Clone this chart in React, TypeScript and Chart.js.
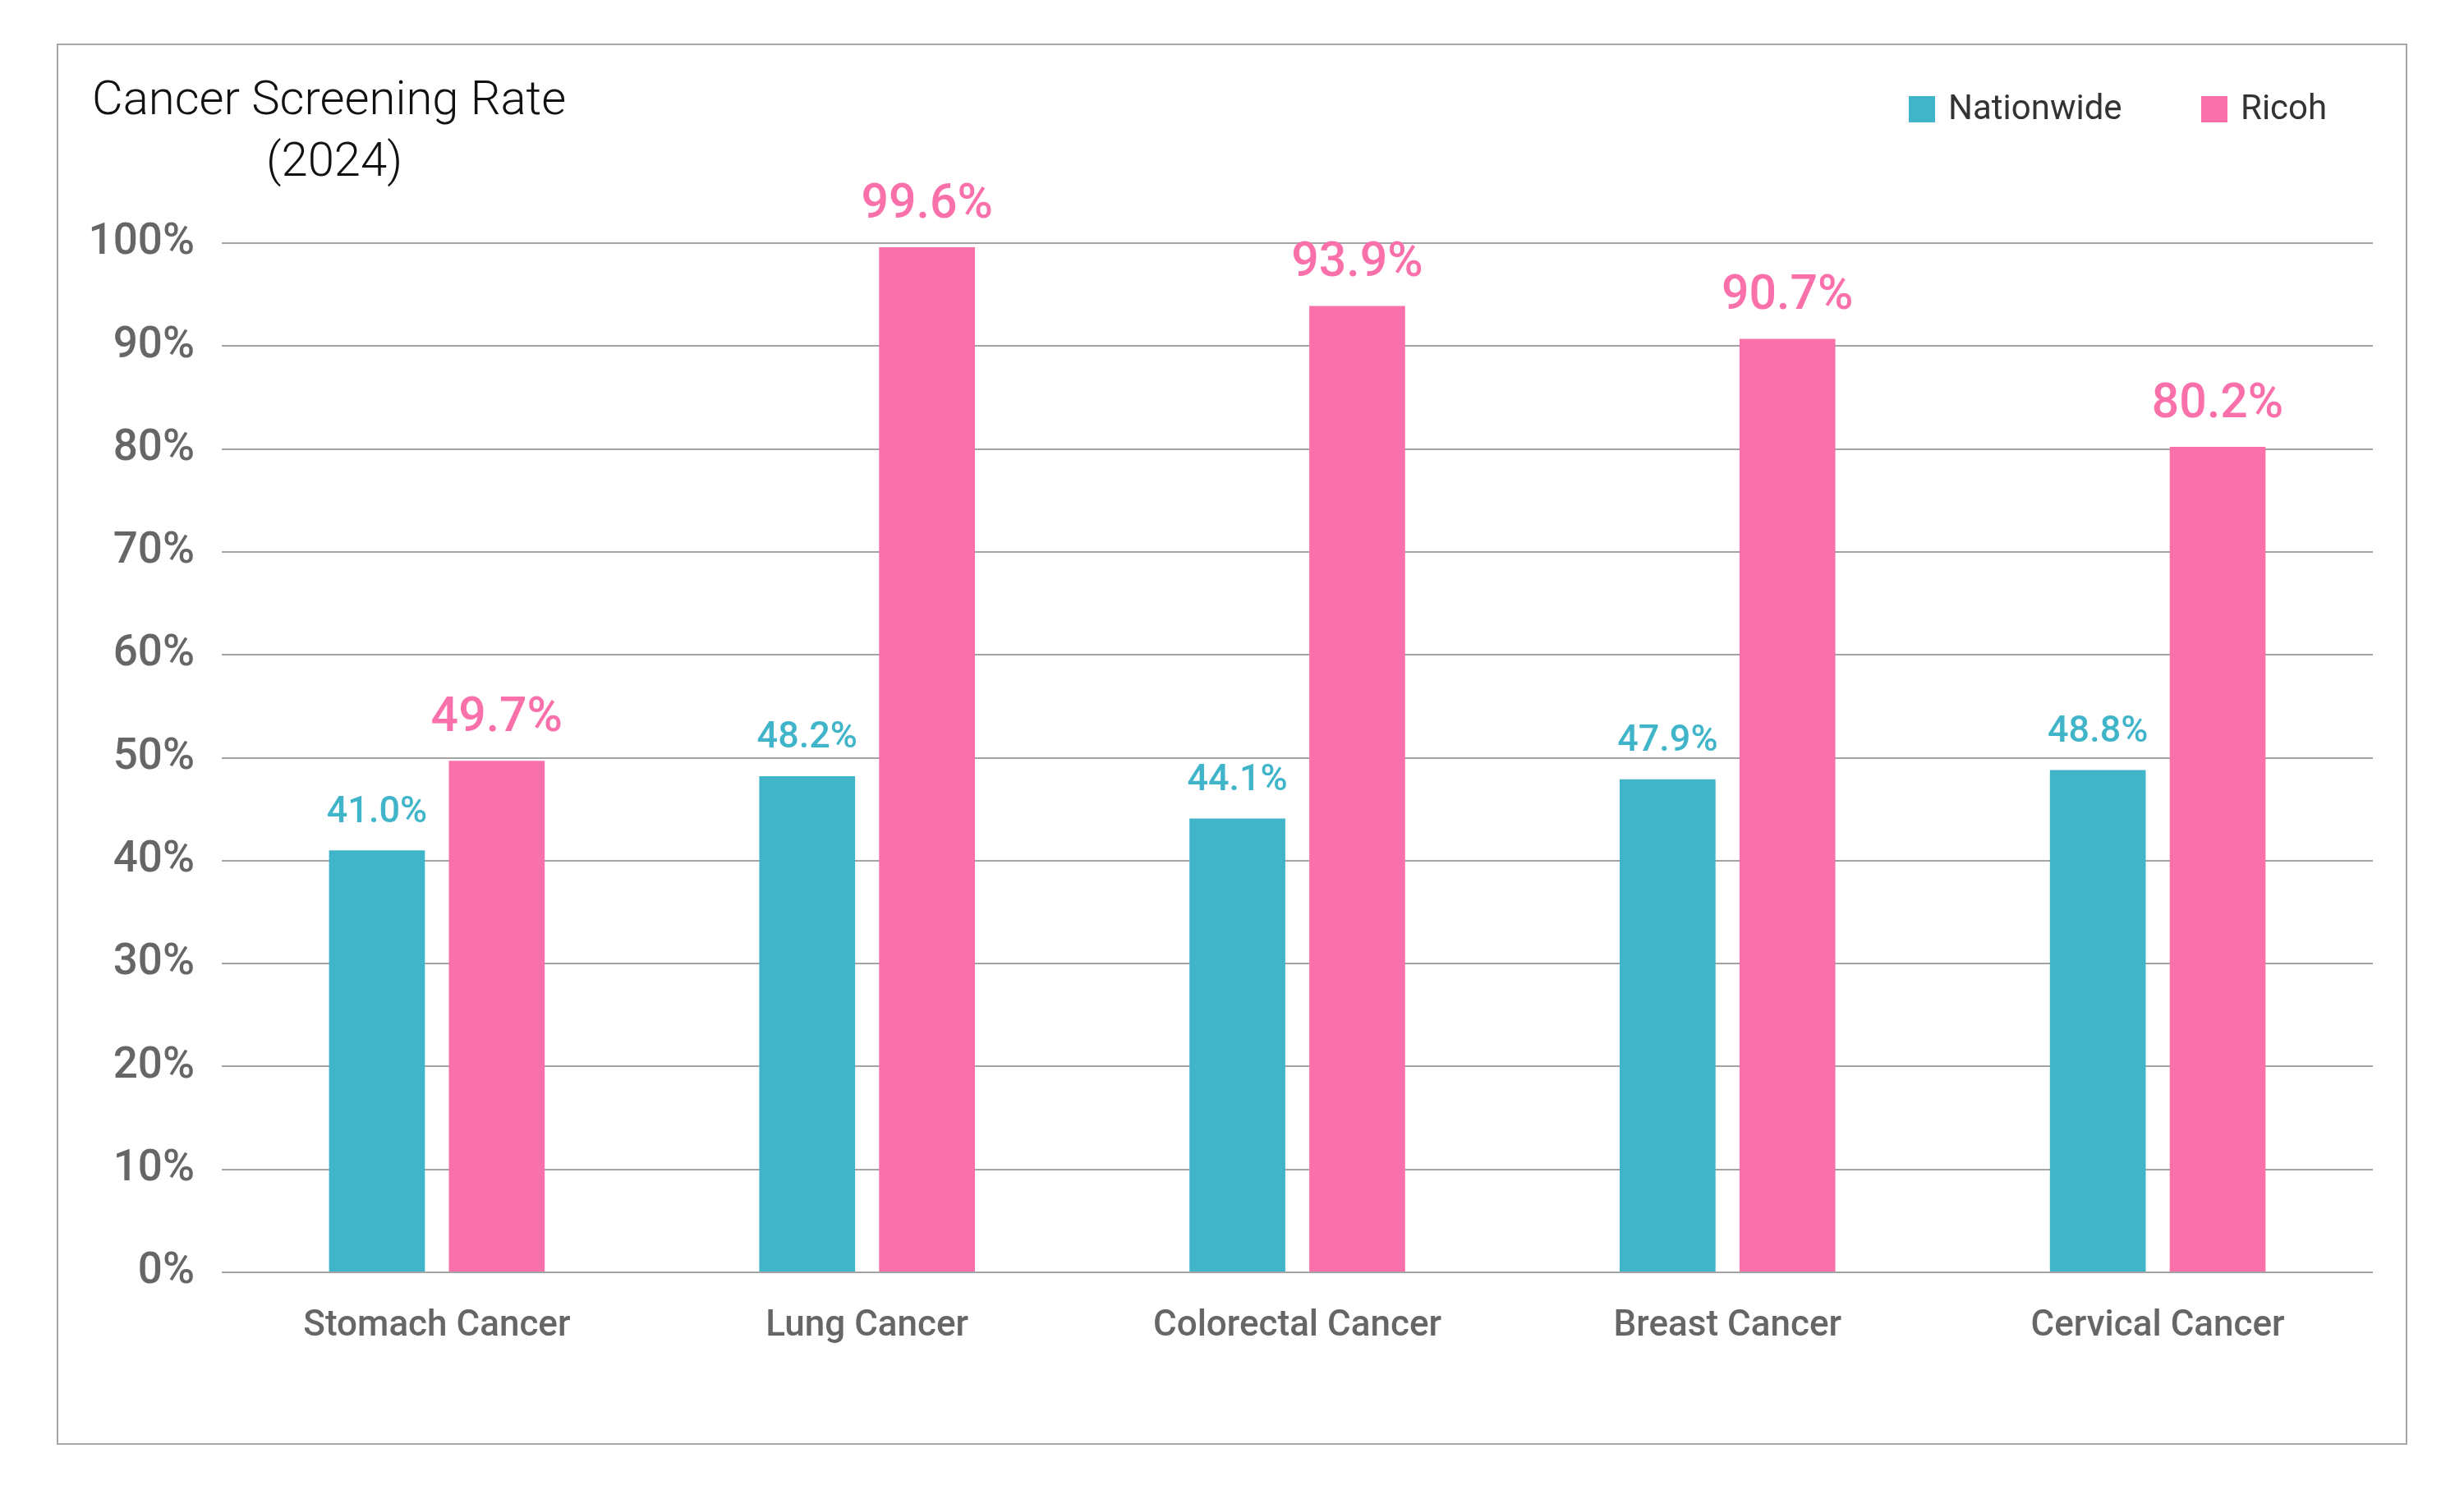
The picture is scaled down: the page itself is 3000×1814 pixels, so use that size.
import React, { useEffect, useRef } from "react";
import { Chart, registerables } from "chart.js";

Chart.register(...registerables);

const categories = ["Stomach Cancer", "Lung Cancer", "Colorectal Cancer", "Breast Cancer", "Cervical Cancer"];
const nationwide = [41.0, 48.2, 44.1, 47.9, 48.8];
const ricoh = [49.7, 99.6, 93.9, 90.7, 80.2];
const seriesNames = ["Nationwide", "Ricoh"];
const yTicks = [0, 10, 20, 30, 40, 50, 60, 70, 80, 90, 100];
const titleLines = ["Cancer Screening Rate", "(2024)"];

const TEAL = "#40B5C9";
const PINK = "#FA70AA";
const FONT = "Roboto, 'Noto Sans', sans-serif";

const W = 3000;
const H = 1814;
const PLOT_LEFT = 270;
const PLOT_RIGHT = 2889;
const PLOT_TOP = 296;
const PLOT_BOTTOM = 1549;
const X_AXIS_H = 110;

const overlayPlugin = {
  id: "overlay",
  afterDatasetsDraw(chart: any) {
    const ctx = chart.ctx;
    ctx.save();
    // data labels
    chart.data.datasets.forEach((ds: any, di: number) => {
      const meta = chart.getDatasetMeta(di);
      meta.data.forEach((bar: any, i: number) => {
        const v = ds.data[i];
        ctx.fillStyle = di === 0 ? TEAL : PINK;
        ctx.font = di === 0 ? `500 45px ${FONT}` : `500 59px ${FONT}`;
        ctx.textAlign = "center";
        ctx.textBaseline = "middle";
        ctx.fillText(v.toFixed(1) + "%", bar.x, bar.y - (di === 0 ? 46 : 51));
      });
    });
    // title
    ctx.fillStyle = "#111";
    ctx.font = `300 58px ${FONT}`;
    ctx.textAlign = "left";
    ctx.textBaseline = "middle";
    ctx.fillText(titleLines[0], 112, 124);
    ctx.textAlign = "center";
    ctx.fillText(titleLines[1], 407, 199);
    // legend
    const legendX = [2324, 2680];
    ctx.font = `400 42px ${FONT}`;
    ctx.textAlign = "left";
    chart.data.datasets.forEach((ds: any, di: number) => {
      ctx.fillStyle = ds.backgroundColor;
      ctx.fillRect(legendX[di], 117, 32, 32);
      ctx.fillStyle = "#333";
      ctx.fillText(ds.label, legendX[di] + 48, 134);
    });
    ctx.restore();
  },
};

export default function App() {
  const ref = useRef<HTMLCanvasElement>(null);
  useEffect(() => {
    if (!ref.current) return;
    const chart = new Chart(ref.current, {
      type: "bar",
      data: {
        labels: categories,
        datasets: [
          { label: seriesNames[0], data: nationwide, backgroundColor: TEAL, borderWidth: 0 },
          { label: seriesNames[1], data: ricoh, backgroundColor: PINK, borderWidth: 0 },
        ],
      },
      plugins: [overlayPlugin],
      options: {
        animation: false,
        responsive: false,
        devicePixelRatio: 1,
        layout: {
          padding: { left: 0, right: W - PLOT_RIGHT, top: PLOT_TOP, bottom: H - PLOT_BOTTOM - X_AXIS_H },
        },
        datasets: { bar: { categoryPercentage: 0.557, barPercentage: 0.8 } },
        plugins: { legend: { display: false }, title: { display: false }, tooltip: { enabled: false } },
        scales: {
          x: {
            grid: { display: false, drawTicks: false },
            border: { display: false },
            afterFit: (s: any) => { s.height = X_AXIS_H; },
            ticks: {
              color: "#666",
              font: { family: FONT, size: 44, weight: 500 },
              padding: 40,
            },
          },
          y: {
            min: 0,
            max: 100,
            afterFit: (s: any) => { s.width = PLOT_LEFT; },
            afterBuildTicks: (s: any) => { s.ticks = yTicks.map((v) => ({ value: v })); },
            grid: { color: "#A3A3A3", lineWidth: 2, drawTicks: false },
            border: { display: false },
            ticks: {
              color: "#666",
              font: { family: FONT, size: 53, weight: 500 },
              padding: 33,
              callback: (v: any) => v + "%",
            },
          },
        },
      },
    });
    return () => chart.destroy();
  }, []);
  return (
    <div style={{ position: "absolute", left: 0, top: 0, width: W, height: H, background: "#fff" }}>
      <div
        style={{
          position: "absolute",
          left: 69,
          top: 53,
          width: 2862,
          height: 1706,
          border: "2px solid #A6A6A6",
          boxSizing: "border-box",
        }}
      />
      <canvas ref={ref} width={W} height={H} style={{ position: "absolute", left: 0, top: 0, width: W, height: H }} />
    </div>
  );
}
